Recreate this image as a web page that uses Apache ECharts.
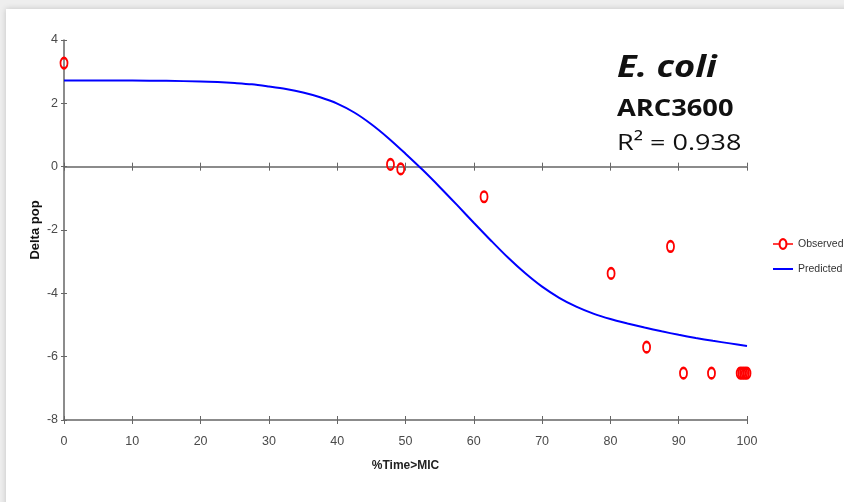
<!DOCTYPE html>
<html>
<head>
<meta charset="utf-8">
<script src="https://cdn.jsdelivr.net/npm/echarts@6/dist/echarts.min.js"></script>
<style>
  html, body { margin: 0; padding: 0; width: 844px; height: 502px; overflow: hidden; background: #eeeeee; }
  #card { position: absolute; left: 6px; top: 9px; width: 860px; height: 520px; background: #fff; box-shadow: 0 0 6px rgba(0,0,0,0.18); }
  #chart { position: absolute; left: 0; top: 0; width: 844px; height: 502px; }
</style>
</head>
<body>
<div id="card"></div>
<div id="chart"></div>
<script>
// Observed data (% Time>MIC, Delta pop)
const obsX = [0, 47.8, 49.3, 61.5, 80.1, 85.3, 88.8, 90.7, 94.8, 99.0, 99.25, 99.5, 99.75, 100];
const obsY = [3.27, 0.07, -0.07, -0.95, -3.37, -5.70, -2.52, -6.52, -6.52, -6.52, -6.52, -6.52, -6.52, -6.52];
// Predicted curve
const predX = [0, 5, 10, 15, 20, 22.5, 25, 27.5, 30, 32.5, 35, 37.5, 40, 42.5, 45, 47.5, 50, 52.5, 55, 57.5, 60, 62.5, 65, 67.5, 70, 72.5, 75, 77.5, 80, 82.5, 85, 87.5, 90, 92.5, 95, 97.5, 100];
const predY = [2.72, 2.72, 2.72, 2.71, 2.69, 2.67, 2.64, 2.60, 2.53, 2.45, 2.34, 2.19, 1.99, 1.71, 1.34, 0.90, 0.41, -0.10, -0.64, -1.20, -1.77, -2.33, -2.87, -3.36, -3.79, -4.14, -4.42, -4.64, -4.81, -4.95, -5.08, -5.20, -5.31, -5.41, -5.50, -5.58, -5.66];
// Axis ticks
const xTicks = { min: 0, max: 100, interval: 10 };
const yTicks = { min: -8, max: 4, interval: 2 };
const seriesNames = ['Observed', 'Predicted'];

const chart = echarts.init(document.getElementById('chart'), null, { renderer: 'canvas' });
const sans = "'Liberation Sans', Arial, sans-serif";
const axisColor = '#666';
const labelColor = '#4a4a4a';

const obsData = obsX.map((x, i) => [x, obsY[i]]);
const predData = predX.map((x, i) => [x, predY[i]]);

function tickAxis(onZero, inside, showLine) {
  return {
    type: 'value', min: xTicks.min, max: xTicks.max, interval: xTicks.interval,
    position: 'bottom',
    axisLine: { show: showLine, onZero: onZero, lineStyle: { color: axisColor, width: 1.5 } },
    axisTick: { show: true, inside: inside, length: 4, lineStyle: { color: axisColor, width: 1 } },
    axisLabel: { show: false },
    splitLine: { show: false }
  };
}

const observedIcon = 'path://M10,0 A4.5,6 0 0 1 10,12 A4.5,6 0 0 1 10,0 Z M10,2.2 A2.4,3.8 0 0 0 10,9.8 A2.4,3.8 0 0 0 10,2.2 Z M0,5.2 L5.6,5.2 L5.6,6.8 L0,6.8 Z M14.4,5.2 L20,5.2 L20,6.8 L14.4,6.8 Z';
const predictedIcon = 'path://M0,0 L0,0 M20,12 L20,12 M0,5 L20,5 L20,7 L0,7 Z';
const annoFont = "'Open Sans', sans-serif";

chart.setOption({
  animation: false,
  grid: { left: 64, right: 97, top: 40, bottom: 82, containLabel: false },
  xAxis: [
    {
      type: 'value', min: xTicks.min, max: xTicks.max, interval: xTicks.interval,
      position: 'bottom',
      name: '%Time>MIC', nameLocation: 'middle', nameGap: 40, nameMoveOverlap: false,
      nameTextStyle: { fontFamily: sans, fontWeight: 'bold', fontSize: 12, color: '#222' },
      axisLine: { onZero: false, lineStyle: { color: axisColor, width: 1.5 } },
      axisTick: { show: true, inside: false, length: 4, lineStyle: { color: axisColor, width: 1 } },
      axisLabel: { fontFamily: sans, fontSize: 12.5, color: labelColor, margin: 15 },
      splitLine: { show: false }
    },
    tickAxis(false, true, false),
    tickAxis(true, false, true),
    tickAxis(true, true, false)
  ],
  yAxis: [
    {
      type: 'value', min: yTicks.min, max: yTicks.max, interval: yTicks.interval,
      position: 'left',
      name: 'Delta pop', nameLocation: 'middle', nameGap: 22, nameRotate: 90, nameMoveOverlap: false,
      nameTextStyle: { fontFamily: sans, fontWeight: 'bold', fontSize: 13, color: '#111' },
      axisLine: { onZero: false, lineStyle: { color: axisColor, width: 1.5 } },
      axisTick: { show: true, inside: false, length: 3, lineStyle: { color: axisColor, width: 1 } },
      axisLabel: { fontFamily: sans, fontSize: 12.5, color: labelColor, margin: 6 },
      splitLine: { show: false }
    },
    {
      type: 'value', min: yTicks.min, max: yTicks.max, interval: yTicks.interval,
      position: 'left',
      axisLine: { show: false, onZero: false },
      axisTick: { show: true, inside: true, length: 3, lineStyle: { color: axisColor, width: 1 } },
      axisLabel: { show: false },
      splitLine: { show: false }
    }
  ],
  legend: {
    orient: 'vertical', left: 773, top: 238, padding: 0, itemWidth: 20, itemHeight: 12, itemGap: 13,
    textStyle: { fontFamily: sans, fontSize: 10.5, color: '#333' },
    data: [
      { name: seriesNames[0], icon: observedIcon, itemStyle: { color: '#ff0000', borderWidth: 0, opacity: 1 } },
      { name: seriesNames[1], icon: predictedIcon, itemStyle: { color: '#0000ff', borderWidth: 0 } }
    ]
  },
  series: [
    {
      name: seriesNames[1], type: 'line', data: predData, smooth: 0.3,
      showSymbol: false, symbol: 'none',
      lineStyle: { color: '#0000ff', width: 2 }, itemStyle: { color: '#0000ff' },
      z: 2
    },
    {
      name: seriesNames[0], type: 'scatter', data: obsData,
      symbol: 'circle', symbolSize: [7, 10.5],
      itemStyle: { color: 'rgba(255,255,255,0)', borderColor: '#ff0000', borderWidth: 2.2, opacity: 1 },
      z: 3
    }
  ],
  graphic: [
    { type: 'text', x: 617, y: 53, scaleX: 1.17, z: 10,
      style: { text: 'E. coli', font: "italic bold 31px " + annoFont, fill: '#111', verticalAlign: 'top' } },
    { type: 'text', x: 617, y: 97, scaleX: 1.16, z: 10,
      style: { text: 'ARC3600', font: "bold 23.5px " + annoFont, fill: '#111', verticalAlign: 'top' } },
    { type: 'text', x: 617, y: 132, scaleX: 1.2, z: 10,
      style: { text: 'R² = 0.938', font: "22.5px " + annoFont, fill: '#111', verticalAlign: 'top' } }
  ]
});
</script>
</body>
</html>
